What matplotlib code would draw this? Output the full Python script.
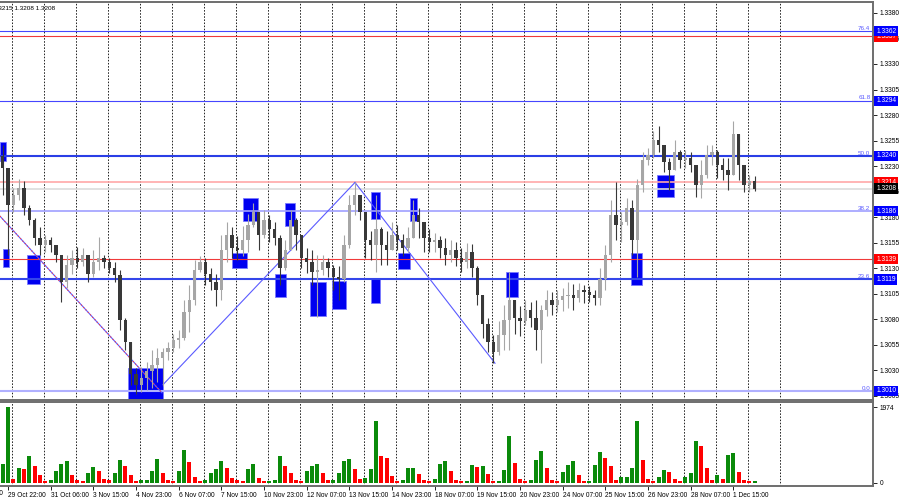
import numpy as np
import matplotlib.pyplot as plt
from matplotlib.patches import Rectangle

plt.rcParams['font.family'] = ['Liberation Sans', 'DejaVu Sans']

bars_per_candle = 4
first_open = 1.3240
highs = [
    1.3251, 1.3228, 1.3209, 1.3217, 1.3215, 1.3192, 1.3179, 1.3170, 1.3163, 1.3161,
    1.3152, 1.3143, 1.3143, 1.3148, 1.3151, 1.3150, 1.3143, 1.3148, 1.3161, 1.3143,
    1.3140, 1.3136, 1.3128, 1.3081, 1.3055, 1.3032, 1.3033, 1.3038, 1.3050, 1.3052,
    1.3052, 1.3058, 1.3066, 1.3070, 1.3099, 1.3114, 1.3138, 1.3142, 1.3140, 1.3130,
    1.3124, 1.3163, 1.3175, 1.3170, 1.3162, 1.3171, 1.3183, 1.3194, 1.3185, 1.3187,
    1.3182, 1.3175, 1.3163, 1.3158, 1.3187, 1.3179, 1.3153, 1.3150, 1.3148, 1.3143,
    1.3143, 1.3140, 1.3133, 1.3132, 1.3163, 1.3202, 1.3214, 1.3202, 1.3182, 1.3166,
    1.3202, 1.3170, 1.3166, 1.3175, 1.3172, 1.3164, 1.3170, 1.3197, 1.3189, 1.3172,
    1.3168, 1.3165, 1.3162, 1.3160, 1.3158, 1.3156, 1.3150, 1.3155, 1.3154, 1.3132,
    1.3103, 1.3081, 1.3065, 1.3078, 1.3094, 1.3126, 1.3099, 1.3093, 1.3099, 1.3097,
    1.3099, 1.3094, 1.3109, 1.3107, 1.3109, 1.3111, 1.3117, 1.3115, 1.3116, 1.3114,
    1.3113, 1.3109, 1.3130, 1.3153, 1.3197, 1.3214, 1.3185, 1.3199, 1.3197, 1.3217,
    1.3244, 1.3248, 1.3264, 1.3269, 1.3248, 1.3238, 1.3256, 1.3246, 1.3246, 1.3244,
    1.3228, 1.3236, 1.3251, 1.3251, 1.3246, 1.3238, 1.3238, 1.3274, 1.3258, 1.3224,
    1.3221, 1.3220,
]
lows = [
    1.3202, 1.3143, 1.3185, 1.3197, 1.3182, 1.3172, 1.3153, 1.3143, 1.3146, 1.3146,
    1.3136, 1.3097, 1.3111, 1.3124, 1.3130, 1.3132, 1.3117, 1.3121, 1.3128, 1.3130,
    1.3125, 1.3117, 1.3070, 1.3050, 1.3016, 1.3007, 1.3009, 1.3011, 1.3013, 1.3019,
    1.3015, 1.3040, 1.3048, 1.3052, 1.3060, 1.3068, 1.3094, 1.3126, 1.3114, 1.3109,
    1.3093, 1.3099, 1.3136, 1.3140, 1.3138, 1.3142, 1.3146, 1.3170, 1.3148, 1.3160,
    1.3156, 1.3153, 1.3114, 1.3128, 1.3158, 1.3148, 1.3130, 1.3125, 1.3114, 1.3082,
    1.3123, 1.3121, 1.3109, 1.3099, 1.3117, 1.3150, 1.3182, 1.3177, 1.3140, 1.3138,
    1.3126, 1.3133, 1.3133, 1.3148, 1.3148, 1.3142, 1.3146, 1.3166, 1.3160, 1.3146,
    1.3146, 1.3146, 1.3140, 1.3133, 1.3136, 1.3132, 1.3126, 1.3130, 1.3121, 1.3094,
    1.3062, 1.3048, 1.3037, 1.3045, 1.3050, 1.3050, 1.3066, 1.3064, 1.3074, 1.3072,
    1.3050, 1.3037, 1.3083, 1.3084, 1.3087, 1.3088, 1.3091, 1.3089, 1.3097, 1.3096,
    1.3097, 1.3094, 1.3094, 1.3109, 1.3136, 1.3158, 1.3156, 1.3172, 1.3143, 1.3121,
    1.3205, 1.3231, 1.3238, 1.3244, 1.3224, 1.3207, 1.3226, 1.3228, 1.3228, 1.3224,
    1.3200, 1.3199, 1.3218, 1.3231, 1.3218, 1.3216, 1.3207, 1.3231, 1.3216, 1.3205,
    1.3205, 1.3206,
]
closes = [
    1.3228, 1.3192, 1.3202, 1.3209, 1.3189, 1.3177, 1.3160, 1.3153, 1.3158, 1.3153,
    1.3143, 1.3117, 1.3133, 1.3140, 1.3136, 1.3143, 1.3124, 1.3136, 1.3140, 1.3136,
    1.3130, 1.3123, 1.3079, 1.3058, 1.3026, 1.3016, 1.3023, 1.3029, 1.3035, 1.3042,
    1.3048, 1.3052, 1.3060, 1.3062, 1.3087, 1.3099, 1.3128, 1.3136, 1.3124, 1.3117,
    1.3109, 1.3148, 1.3163, 1.3150, 1.3148, 1.3158, 1.3172, 1.3185, 1.3163, 1.3177,
    1.3168, 1.3160, 1.3130, 1.3148, 1.3177, 1.3163, 1.3140, 1.3136, 1.3126, 1.3128,
    1.3136, 1.3130, 1.3121, 1.3119, 1.3153, 1.3192, 1.3202, 1.3185, 1.3158, 1.3153,
    1.3168, 1.3153, 1.3148, 1.3163, 1.3158, 1.3150, 1.3160, 1.3182, 1.3175, 1.3160,
    1.3156, 1.3158, 1.3150, 1.3143, 1.3148, 1.3140, 1.3136, 1.3146, 1.3130, 1.3104,
    1.3075, 1.3058, 1.3048, 1.3065, 1.3079, 1.3099, 1.3081, 1.3078, 1.3089, 1.3081,
    1.3070, 1.3089, 1.3099, 1.3094, 1.3099, 1.3103, 1.3104, 1.3101, 1.3109, 1.3107,
    1.3104, 1.3101, 1.3119, 1.3143, 1.3182, 1.3172, 1.3175, 1.3189, 1.3158, 1.3212,
    1.3236, 1.3241, 1.3256, 1.3251, 1.3234, 1.3226, 1.3244, 1.3236, 1.3238, 1.3231,
    1.3212, 1.3221, 1.3241, 1.3244, 1.3231, 1.3226, 1.3221, 1.3261, 1.3231, 1.3212,
    1.3215, 1.3208,
]
volumes = [
    500, 1974, 100, 380, 350, 710, 450, 200, 60, 80,
    300, 480, 560, 200, 80, 50, 250, 420, 300, 100,
    80, 250, 600, 450, 200, 50, 80, 80, 300, 620,
    250, 80, 50, 300, 850, 550, 150, 50, 80, 250,
    350, 580, 400, 120, 80, 50, 350, 480, 120, 50,
    50, 80, 700, 450, 250, 80, 50, 300, 450, 480,
    250, 80, 80, 250, 580, 620, 350, 90, 120, 350,
    1620, 700, 660, 180, 50, 80, 400, 400, 220, 80,
    50, 100, 480, 580, 300, 80, 50, 50, 470, 420,
    430, 220, 60, 60, 340, 1210, 520, 90, 60, 70,
    600, 830, 380, 70, 60, 290, 470, 560, 200, 60,
    60, 470, 810, 650, 450, 70, 160, 160, 380, 1600,
    600, 110, 60, 160, 340, 290, 110, 60, 160, 250,
    1100, 960, 380, 70, 200, 110, 740, 780, 290, 80,
    50, 50,
]

time_labels = ['29 Oct 22:00', '31 Oct 06:00', '3 Nov 15:00', '4 Nov 23:00', '6 Nov 07:00',
               '7 Nov 15:00', '10 Nov 23:00', '12 Nov 07:00', '13 Nov 15:00', '14 Nov 23:00',
               '18 Nov 07:00', '19 Nov 15:00', '20 Nov 23:00', '24 Nov 07:00', '25 Nov 15:00',
               '26 Nov 23:00', '28 Nov 07:00', '1 Dec 15:00']
time_label_bars = [6, 38, 70, 102, 134, 166, 198, 230, 262, 294, 326, 358, 390, 422,
                   454, 486, 518, 550]
cut_label, cut_label_bar = '28 Oct 14:00', -26
day_start_bar = 9

fib_levels = [1.3362, 1.3294, 1.3240, 1.3186, 1.3119, 1.3010]
fib_names = ['76.4', '61.8', '50.0', '38.2', '23.6', '0.0']
fib_colors = ['#4646ff', '#4646ff', '#2a3ee6', '#a0a0ff', '#3446ea', '#b0b0ff']
fib_widths = [0.8, 0.8, 1.5, 1.2, 1.5, 1.5]
red_levels = [1.3357, 1.3139]
ask_price = 1.3214
bid_price = 1.3208

# zones: (bar from, bar to, price low, price high)
zones = [
    (0, 4.5, 1.3235, 1.3254),
    (2.25, 6.75, 1.3131, 1.3149),
    (20.25, 30, 1.3115, 1.3143),
    (96, 122.25, 1.3000, 1.3032),
    (182.25, 193.5, 1.3176, 1.3199),
    (174, 185.25, 1.3130, 1.3145),
    (213.75, 221.25, 1.3171, 1.3194),
    (206.25, 214.5, 1.3102, 1.3124),
    (232.5, 244.5, 1.3083, 1.3117),
    (249, 259.5, 1.3090, 1.3118),
    (278.25, 285, 1.3178, 1.3205),
    (278.25, 285, 1.3096, 1.3119),
    (298.5, 307.5, 1.3129, 1.3145),
    (307.5, 312.75, 1.3176, 1.3199),
    (379.5, 388.5, 1.3102, 1.3126),
    (492.75, 505.5, 1.3200, 1.3221),
    (473.25, 481.5, 1.3114, 1.3145),
]
down_line = [(0, 1.3181), (121.5, 1.3008)]
trend_lines = [
    [(122.25, 1.3016), (266.25, 1.3214)],
    [(266.25, 1.3214), (371.25, 1.3037)],
]

FS = 4.8

n = len(closes)
x = np.arange(n) * bars_per_candle + bars_per_candle / 2
opens = np.array([first_open] + closes[:-1])
closes_a = np.array(closes)
up = closes_a >= opens
body_col = np.where(up, '#a6a6a6', '#383838')

fig = plt.figure(figsize=(9, 5), dpi=100)
ax = fig.add_axes([0, 0.2, 873 / 900, 0.796])
axv = fig.add_axes([0, 0.028, 873 / 900, 0.168])

xmax = 873 * 0.75
for a in (ax, axv):
    a.set_xlim(0, xmax)
    for b in np.arange(day_start_bar, 600, 24):
        a.axvline(b, color='#222222', lw=0.7, ls=(0, (1.6, 1.6)), zorder=0.5)
    a.spines['left'].set_visible(False)
    for s in ('top', 'bottom', 'right'):
        a.spines[s].set_color('#6e6e6e')
        a.spines[s].set_linewidth(1.4)
    a.yaxis.tick_right()
    a.tick_params(axis='y', direction='out', length=3, width=0.6, labelsize=FS, pad=1.5)

ax.set_ylim(1.3001, 1.33907)
ax.set_xticks([])

# zones behind candles
for b0, b1, lo, hi in zones:
    ax.add_patch(Rectangle((b0, lo), b1 - b0, hi - lo, facecolor='#0000f0',
                           edgecolor='#7a7aff', lw=0.6, zorder=1))

# horizontal levels
for lv, c, w in zip(fib_levels, fib_colors, fib_widths):
    ax.axhline(lv, color=c, lw=w, zorder=1.5)
for lv in red_levels:
    ax.axhline(lv, color='#f03a3a', lw=0.8, zorder=1.5)
ax.axhline(ask_price, color='#ffa8a8', lw=1.2, zorder=1.5)
ax.axhline(bid_price, color='#dcdcdc', lw=1.2, zorder=1.5)

ax.plot([p[0] for p in down_line], [p[1] for p in down_line], color='#5a5aff', lw=0.8, zorder=2)
ax.plot([p[0] for p in down_line], [p[1] for p in down_line], color='#ff3a3a', lw=0.8,
        ls=(0, (1, 2)), zorder=2.1)
for ln in trend_lines:
    ax.plot([p[0] for p in ln], [p[1] for p in ln], color='#5a5aff', lw=0.8, zorder=2)

# candles
ax.vlines(x, np.minimum(lows, np.minimum(opens, closes_a)),
          np.maximum(highs, np.maximum(opens, closes_a)), colors=body_col, lw=0.8, zorder=3)
ax.bar(x, closes_a - opens, bottom=opens, width=2.4, color=body_col, zorder=3)

yt = np.round(np.arange(1.3005, 1.33801, 0.0025), 4)
ax.set_yticks(yt)
ax.set_yticklabels([f'{v:.4f}' for v in yt])

ytr = ax.get_yaxis_transform()
for lv, name in zip(fib_levels, fib_names):
    ax.text(0.997, lv + 0.00003, name, transform=ytr, ha='right', va='bottom',
            fontsize=4.5, color='#5a5aff', zorder=5)


def price_box(level, fc):
    ax.text(1.0035, level, f'{level:.4f}', transform=ytr, ha='left', va='center',
            fontsize=FS, color='white', zorder=10, clip_on=False,
            bbox=dict(boxstyle='square,pad=0.25', fc=fc, ec='none'))


price_box(red_levels[0], '#ff0000')
for lv in fib_levels:
    price_box(lv, '#0000ff')
price_box(red_levels[1], '#ff0000')
price_box(ask_price, '#ff0000')
price_box(bid_price, '#000000')

# volumes, MT4 style: green when higher than the previous bar
vol = np.array(volumes)
vcol = np.where(np.r_[True, vol[1:] >= vol[:-1]], '#0a8a0a', '#ff0000')
axv.bar(x, vol, width=3.2, color=vcol, zorder=2)
axv.set_ylim(-80, 2107)
axv.set_yticks([0, 1974])
axv.set_xticks(time_label_bars)
axv.set_xticklabels(time_labels, ha='left')
axv.tick_params(axis='x', direction='out', length=3, width=0.6, labelsize=FS, pad=1.5)
axv.text(cut_label_bar, -0.045, cut_label, transform=axv.get_xaxis_transform(),
         ha='left', va='top', fontsize=FS, clip_on=False)

fig.text(-7 / 900, 1 - 8 / 500, '1.3215 1.3208 1.3208', fontsize=4.6, va='center')

fig.savefig('out.png', dpi=100)
